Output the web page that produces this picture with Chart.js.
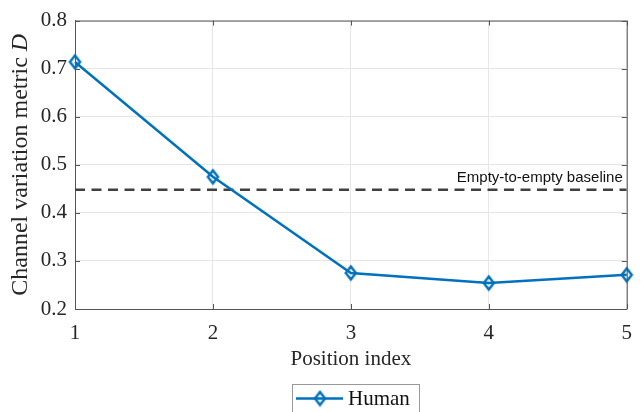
<!DOCTYPE html>
<html><head><meta charset="utf-8">
<script src="https://cdn.jsdelivr.net/npm/chart.js@4.4.1/dist/chart.umd.min.js"></script>
<style>html,body{margin:0;padding:0;background:#fff;}#wrap{width:644px;height:412px;position:relative;}</style>
</head><body><div id="wrap"><canvas id="c" width="644" height="412"></canvas></div>
<script>
const positions = [1, 2, 3, 4, 5];
const humanD = [0.714, 0.475, 0.275, 0.254, 0.271];
const baselineD = [0.448, 0.448, 0.448, 0.448, 0.448];
const yTicks = [0.2, 0.3, 0.4, 0.5, 0.6, 0.7, 0.8];
const seriesName = 'Human';
const baselineLabel = 'Empty-to-empty baseline';
const xTitle = 'Position index';
const yTitleMain = 'Channel variation metric ';
const yTitleVar = 'D';

const SERIF = '"Liberation Serif", "Times New Roman", serif';
const SANS = '"Liberation Sans", Arial, sans-serif';
const AX = '#262626';
const BLUE = '#0072BD';

function diamond(w, h, lw) {
  const c = document.createElement('canvas');
  c.width = w + 2 * lw; c.height = h + 2 * lw;
  const g = c.getContext('2d');
  const cx = c.width / 2, cy = c.height / 2;
  g.strokeStyle = BLUE; g.lineWidth = lw; g.lineJoin = 'miter';
  g.beginPath();
  g.moveTo(cx, cy - h / 2); g.lineTo(cx + w / 2, cy); g.lineTo(cx, cy + h / 2); g.lineTo(cx - w / 2, cy); g.closePath();
  g.stroke();
  return c;
}
const marker = diamond(10, 13, 2.5);

const extras = {
  id: 'extras',
  afterDraw(chart) {
    const ctx = chart.ctx, a = chart.chartArea;
    const xs = chart.scales.x, ys = chart.scales.y;
    ctx.save();
    // box
    ctx.strokeStyle = '#555'; ctx.lineWidth = 1;
    ctx.beginPath();
    ctx.moveTo(a.left + 0.5, a.top + 0.5); ctx.lineTo(a.right + 0.5, a.top + 0.5); ctx.lineTo(a.right + 0.5, a.bottom + 0.5);
    ctx.stroke();
    // inward ticks
    const tl = 5;
    ctx.beginPath();
    yTicks.forEach(v => {
      const y = Math.round(ys.getPixelForValue(v)) + 0.5;
      ctx.moveTo(a.left, y); ctx.lineTo(a.left + tl, y);
      ctx.moveTo(a.right, y); ctx.lineTo(a.right - tl, y);
    });
    positions.forEach(v => {
      const x = Math.round(xs.getPixelForValue(v)) + 0.5;
      ctx.moveTo(x, a.bottom); ctx.lineTo(x, a.bottom - tl);
      ctx.moveTo(x, a.top); ctx.lineTo(x, a.top + tl);
    });
    ctx.stroke();
    // baseline annotation
    ctx.fillStyle = '#111';
    ctx.font = '15px ' + SANS;
    ctx.textAlign = 'right'; ctx.textBaseline = 'alphabetic';
    ctx.fillText(baselineLabel, a.right - 4, ys.getPixelForValue(baselineD[0]) - 8);
    // x title
    ctx.fillStyle = AX;
    ctx.font = '21px ' + SERIF;
    ctx.textAlign = 'center'; ctx.textBaseline = 'middle';
    ctx.fillText(xTitle, (a.left + a.right) / 2, 359);
    // y title with italic D
    ctx.save();
    ctx.translate(21, (a.top + a.bottom) / 2);
    ctx.rotate(-Math.PI / 2);
    ctx.font = '24px ' + SERIF;
    const w1 = ctx.measureText(yTitleMain).width;
    ctx.font = 'italic 24px ' + SERIF;
    const w2 = ctx.measureText(yTitleVar).width;
    let sx = -(w1 + w2) / 2;
    ctx.textAlign = 'left'; ctx.textBaseline = 'middle';
    ctx.font = '24px ' + SERIF;
    ctx.fillText(yTitleMain, sx, 0);
    ctx.font = 'italic 24px ' + SERIF;
    ctx.fillText(yTitleVar, sx + w1, 0);
    ctx.restore();
    // legend
    const lx = 292, ly = 384, lw = 127, lh = 32;
    ctx.fillStyle = '#fff';
    ctx.fillRect(lx, ly, lw, lh);
    ctx.strokeStyle = '#999'; ctx.lineWidth = 1;
    ctx.strokeRect(lx + 0.5, ly + 0.5, lw, lh);
    const cy = 398.5;
    ctx.strokeStyle = BLUE; ctx.lineWidth = 2.5;
    ctx.beginPath(); ctx.moveTo(lx + 4, cy); ctx.lineTo(lx + 51, cy); ctx.stroke();
    ctx.drawImage(marker, lx + 28 - marker.width / 2, cy - marker.height / 2);
    ctx.fillStyle = '#111';
    ctx.font = '21px ' + SERIF;
    ctx.textAlign = 'left'; ctx.textBaseline = 'middle';
    ctx.fillText(seriesName, lx + 56, cy + 1);
    ctx.restore();
  }
};

new Chart(document.getElementById('c'), {
  type: 'line',
  data: {
    datasets: [
      {
        label: seriesName,
        data: positions.map((p, i) => ({ x: p, y: humanD[i] })),
        borderColor: BLUE, borderWidth: 2.5,
        pointStyle: marker, pointRadius: 7,
        clip: false, tension: 0, order: 0
      },
      {
        label: baselineLabel,
        data: positions.map((p, i) => ({ x: p, y: baselineD[i] })),
        borderColor: '#404040', borderWidth: 2.5, borderDash: [10, 6.5],
        pointRadius: 0, tension: 0, order: 1
      }
    ]
  },
  options: {
    responsive: false, animation: false,
    devicePixelRatio: 1,
    layout: { padding: { left: 0, right: 8, top: 15, bottom: 0 } },
    plugins: { legend: { display: false }, tooltip: { enabled: false } },
    scales: {
      x: {
        type: 'linear', min: 1, max: 5,
        afterFit: s => { s.height = 103; },
        afterBuildTicks: s => { s.ticks = positions.map(v => ({ value: v })); },
        grid: { color: '#e6e6e6', drawTicks: false },
        border: { color: '#555' },
        ticks: { color: AX, font: { family: SERIF, size: 21 }, padding: 12, maxRotation: 0 }
      },
      y: {
        min: 0.2, max: 0.8,
        afterFit: s => { s.width = 75; },
        afterBuildTicks: s => { s.ticks = yTicks.map(v => ({ value: v })); },
        grid: { color: '#e6e6e6', drawTicks: false },
        border: { color: '#555' },
        ticks: { color: AX, font: { family: SERIF, size: 21 }, padding: 8, callback: v => v.toFixed(1) }
      }
    }
  },
  plugins: [extras]
});
</script></body></html>
